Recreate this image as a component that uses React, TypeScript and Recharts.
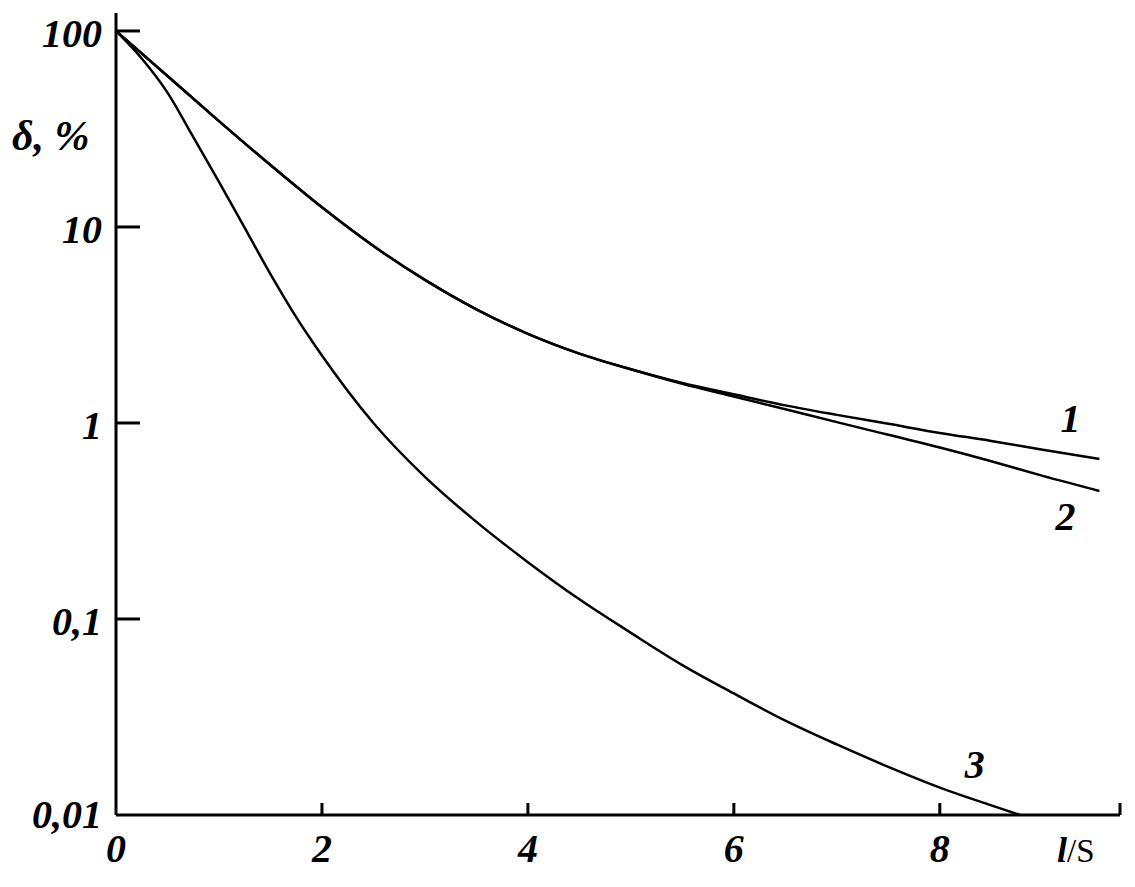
import React from "react";
import { LineChart, Line, XAxis, YAxis, ReferenceDot } from "recharts";

// curve 1
const x1 = [0, 0.5, 1, 1.5, 2, 2.5, 3, 3.5, 4, 4.5, 5, 5.5, 6, 6.5, 7, 7.5, 8, 8.5, 9, 9.55];
const y1 = [100, 58.9, 34.7, 20.7, 12.6, 8.0, 5.37, 3.8, 2.85, 2.26, 1.88, 1.6, 1.4, 1.23, 1.1, 0.99, 0.89, 0.81, 0.73, 0.655];
// curve 2 (same as 1 until ~5)
const x2 = [0, 0.5, 1, 1.5, 2, 2.5, 3, 3.5, 4, 4.5, 5, 5.5, 6, 6.5, 7, 7.5, 8, 8.5, 9, 9.55];
const y2 = [100, 58.9, 34.7, 20.7, 12.6, 8.0, 5.37, 3.8, 2.85, 2.26, 1.88, 1.585, 1.365, 1.175, 1.01, 0.87, 0.75, 0.638, 0.537, 0.45];
// curve 3
const x3 = [0, 0.25, 0.5, 0.75, 1, 1.25, 1.5, 1.75, 2, 2.5, 3, 3.5, 4, 4.5, 5, 5.5, 6, 6.5, 7, 7.5, 8, 8.5, 8.78];
const y3 = [100, 72.4, 48.5, 28.8, 17.0, 9.89, 5.75, 3.47, 2.21, 1.0, 0.531, 0.313, 0.195, 0.126, 0.085, 0.0582, 0.0417, 0.0303, 0.0229, 0.0176, 0.0138, 0.0112, 0.01];

const xTicks = [0, 2, 4, 6, 8, 9.75];
const yTicks = [0.01, 0.1, 1, 10, 100];

const curveNames = ["1", "2", "3"];
const labelX = [9.27, 9.22, 8.34];
const labelY = [1.06, 0.336, 0.0182];

const toRows = (xs: number[], ys: number[]) => xs.map((x, i) => ({ x, y: ys[i] }));
const series = [toRows(x1, y1), toRows(x2, y2), toRows(x3, y3)];

const font = "'Liberation Serif', 'Times New Roman', serif";
const textStyle = { fontFamily: font, fontWeight: "bold" as const, fontStyle: "italic" as const, fontSize: 40, fill: "#000" };

const fmtY = (v: number) => String(v).replace(".", ",");

function XTick(props: any) {
    const { x, y, payload } = props;
    const v = payload.value;
    return (
        <g>
            {v !== 0 && <line x1={x} y1={y} x2={x} y2={y - 12} stroke="#000" strokeWidth={3} />}
            {v <= 8 && (
                <text x={x} y={y + 47} textAnchor="middle" {...textStyle}>
                    {v}
                </text>
            )}
        </g>
    );
}

function YTick(props: any) {
    const { x, y, payload } = props;
    const v = payload.value;
    return (
        <g>
            {v > 0.01 && <line x1={x} y1={y} x2={x + 24} y2={y} stroke="#000" strokeWidth={3} />}
            <text x={x - 14} y={v > 0.01 ? y + 16 : y + 13} textAnchor="end" {...textStyle}>
                {fmtY(v)}
            </text>
        </g>
    );
}

export default function App() {
    return (
        <LineChart width={1119} height={871} margin={{ top: 5, right: 7, bottom: 0, left: 0 }}>
            <XAxis
                dataKey="x"
                type="number"
                domain={[0, 9.75]}
                ticks={xTicks}
                interval={0}
                height={64}
                tickSize={0}
                tickMargin={0}
                tickLine={false}
                axisLine={{ stroke: "#000", strokeWidth: 3 }}
                tick={<XTick />}
                allowDataOverflow
                label={{
                    content: (p: any) => {
                        const vb = p.viewBox;
                        return (
                            <text x={vb.x + vb.width - 63} y={vb.y + 47} fontFamily={font} fill="#000">
                                <tspan fontSize={36} fontWeight="bold" fontStyle="italic">l</tspan>
                                <tspan fontSize={33}>/S</tspan>
                            </text>
                        );
                    },
                }}
            />
            <YAxis
                type="number"
                scale="log"
                domain={[0.01, 123.5]}
                ticks={yTicks}
                interval={0}
                width={108}
                tickSize={0}
                tickMargin={0}
                tickLine={false}
                axisLine={{ stroke: "#000", strokeWidth: 3 }}
                tick={<YTick />}
                allowDataOverflow
                label={{
                    content: (p: any) => {
                        const vb = p.viewBox;
                        return (
                            <text x={vb.x + 4} y={vb.y + 137} {...textStyle} fontSize={42}>
                                δ, %
                            </text>
                        );
                    },
                }}
            />
            {series.map((rows, i) => (
                <Line
                    key={curveNames[i]}
                    data={rows}
                    dataKey="y"
                    type="monotone"
                    stroke="#000"
                    strokeWidth={2.5}
                    dot={false}
                    activeDot={false}
                    isAnimationActive={false}
                />
            ))}
            {curveNames.map((name, i) => (
                <ReferenceDot
                    key={"lbl" + name}
                    x={labelX[i]}
                    y={labelY[i]}
                    r={0}
                    fill="none"
                    stroke="none"
                    label={{ value: name, position: "center", ...textStyle }}
                />
            ))}
        </LineChart>
    );
}
